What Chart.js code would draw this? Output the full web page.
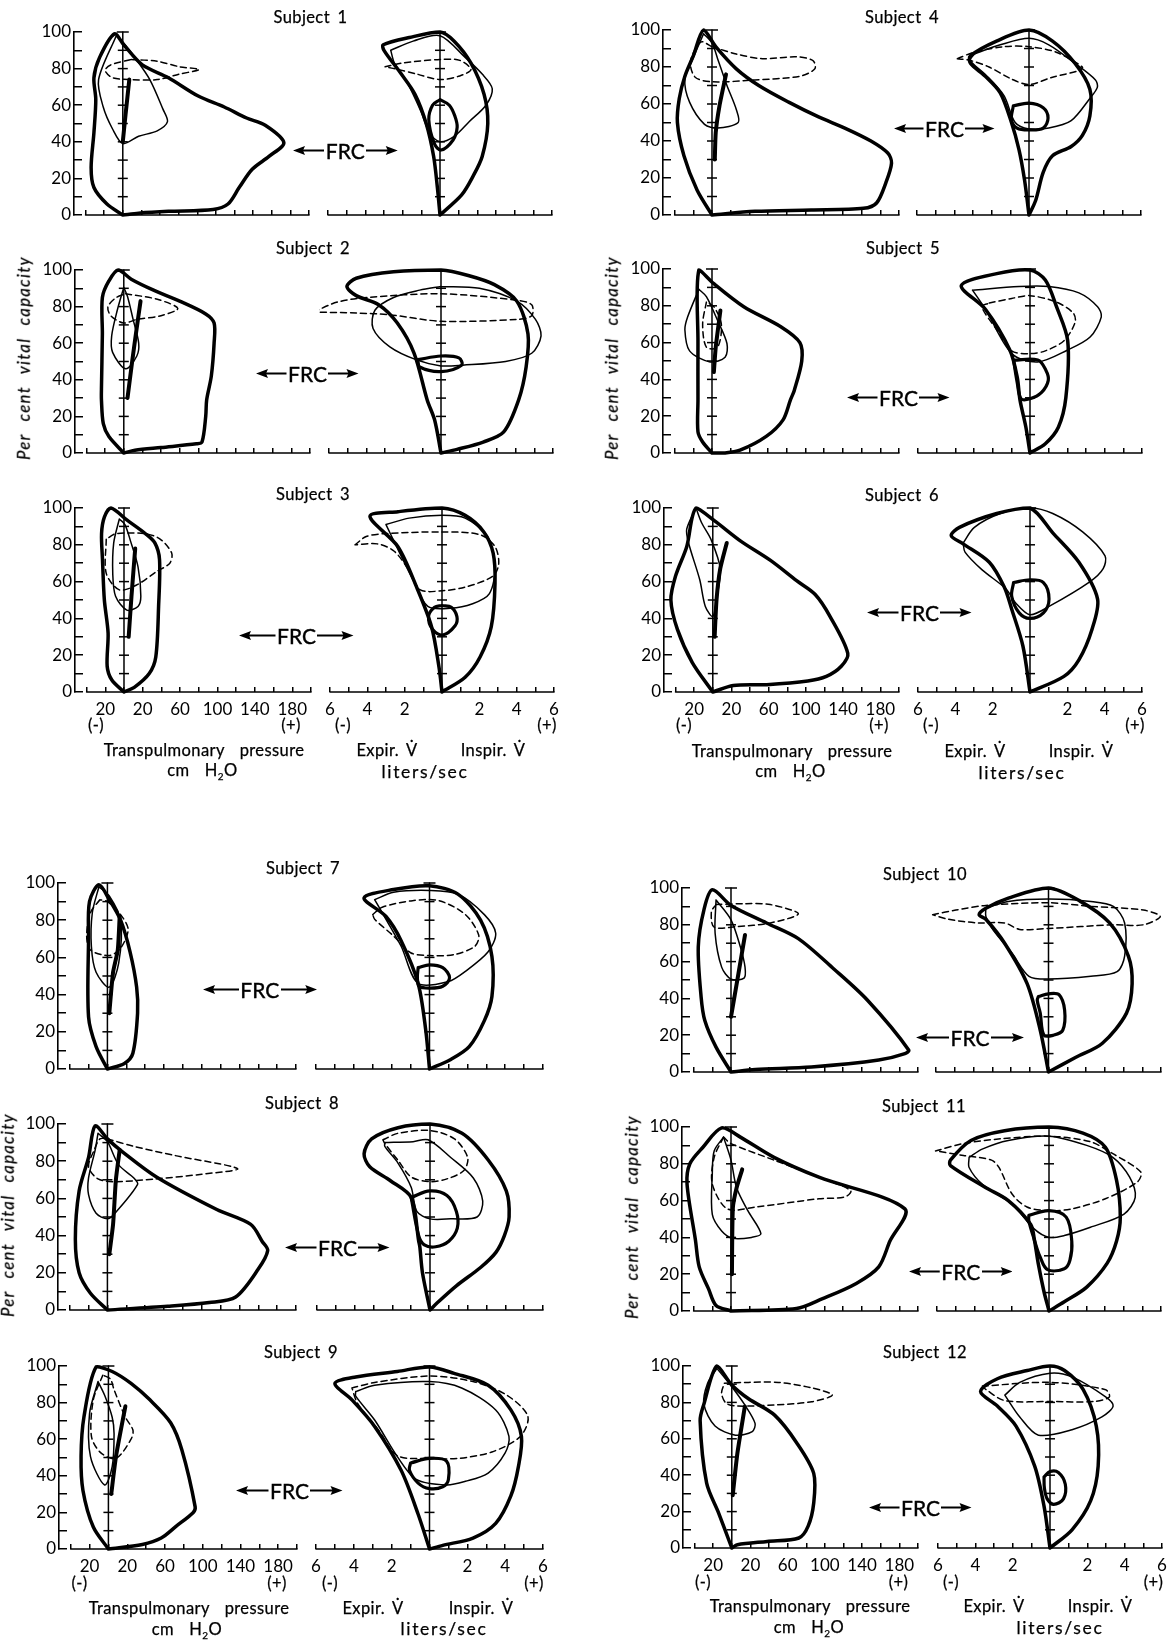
<!DOCTYPE html>
<html><head><meta charset="utf-8">
<style>
html,body{margin:0;padding:0;background:#fff;}
body{position:relative;width:1176px;height:1645px;overflow:hidden;font-family:Lato,sans-serif;color:#000;}
canvas{position:absolute;}
.t{position:absolute;white-space:nowrap;transform:translate(-50%,-50%);font-size:16.5px;line-height:1;letter-spacing:.4px;word-spacing:3px;-webkit-text-stroke:.25px #000;}
.t sub{font-size:10px;line-height:0;}
.li{font-size:17.5px;letter-spacing:1.7px;}
.rot{transform:translate(-50%,-50%) rotate(-90deg);font-style:italic;font-size:16.5px;letter-spacing:1.4px;word-spacing:7px;}
.frc{position:absolute;display:flex;align-items:center;justify-content:space-between;transform:translateY(-50%);font-size:21px;line-height:1;-webkit-text-stroke:.4px #000;}
.frc svg{flex:none;display:block;}
</style>
</head><body>
<script src="https://cdn.jsdelivr.net/npm/chart.js@4/dist/chart.umd.min.js"></script>
<script>
/* Axis values */
const pressureTicks=[-40,-20,0,20,40,60,80,100,120,140,160,180,200];
const pressureLabels=[-20,20,60,100,140,180];
const flowTicks=[-6,-5,-4,-3,-2,-1,0,1,2,3,4,5,6];
const flowLabels=[-6,-4,-2,2,4,6];
const volumeTicks=[0,10,20,30,40,50,60,70,80,90,100];
const volumeLabels=[0,20,40,60,80,100];

/* Subject 1 */
const s1PressureMax=[[0,0],[-17,6],[-31,15],[-34,26],[-31,45],[-29,63],[-31,75],[-25,86],[-9,99],[1,93],[21,82],[49,75],[81,65],[109,59],[133,53],[153,49],[173,39.5],[157,32],[139,25],[125,15],[113,6],[97,3],[49,2],[17,1]];
const s1PressureThin=[[-7,98],[-26,74],[-21,59],[-11,47],[0,39],[17,43],[37,46],[48,51],[43,58],[29,74],[13,86],[1,94]];
const s1PressureDash=[[9,85],[37,84],[61,81],[82,79.5],[61,77],[37,74],[9,74],[-11,75],[-19,79],[-13,82]];
const s1PressureTidal=[[0,40],[3,55],[7,74]];
const s1FlowMax=[[0,0],[-.14,15],[-.34,32],[-.74,50],[-1.34,66],[-2.14,78],[-3,90],[-3.04,93],[-1.64,97],[0,100],[.76,95],[1.66,83],[2.36,66],[2.56,50],[2.26,32],[1.76,21],[1.16,11]];
const s1FlowThin=[[-2.64,90],[-1.44,95],[0,98],[1.36,86],[2.26,77],[2.8,69],[2.46,60],[1.56,51],[.76,43],[0,40],[-.54,44.5],[-1.04,57],[-1.74,72],[-2.44,83]];
const s1FlowDash=[[-2.94,81],[-2.04,83],[0,85],[1.06,84.5],[1.66,79.5],[1.06,76],[0,74],[-1.24,77],[-2.24,79.5]];
const s1FlowTidal=[[0,63],[.5,60],[.8,54],[.92,48],[.7,41],[.06,35.5],[-.3,39],[-.6,52],[-.4,60]];

/* Subject 2 */
const s2PressureMax=[[0,0],[-16,9],[-22,16],[-24,29],[-24,35],[-23,65],[-23,85],[-16,94],[-6,100],[8,95],[32,89],[60,83],[88,76],[97,71],[97,60],[94,42],[89,29],[88,20],[84,6],[78,5],[40,3],[12,1.5]];
const s2PressureThin=[[0,90.5],[-7,78],[-13,64],[-12,55],[2,46],[14,53],[16,60],[10,73],[4,85.5]];
const s2PressureDash=[[2,87],[36,84],[58,79],[40,75],[14,73],[0,71],[-14,75],[-17,80],[-8,85]];
const s2PressureTidal=[[4,30],[9,50],[13,65],[18,83]];
const s2FlowMax=[[0,0],[-.34,18],[-.74,29],[-1.44,54.5],[-2.34,71],[-3.34,81],[-4.54,86],[-5.04,91],[-4.54,95.5],[-2.54,99],[0,100],[1.46,97],[2.86,92],[4.06,83],[4.66,65],[4.56,47],[4.16,29],[3.36,11.5],[2.26,6],[.86,2]];
const s2FlowThin=[[0,91],[2.06,90],[4.06,83],[5.06,73],[5.36,64],[4.86,54.5],[3.46,50],[1.16,48],[0,47.6],[-1.34,51],[-2.74,58],[-3.64,68],[-3.54,78],[-2.54,85],[-1.14,89]];
const s2FlowDash=[[-6.84,77],[-5.54,82.5],[-3.94,85],[0,87],[4.06,83.5],[4.86,81],[4.86,75],[4.06,73],[0,72],[-2.74,75.5],[-4.54,76.5]];
const s2FlowTidal=[[-1.24,51],[0,53],[.96,52],[1.1,48],[0,44.5],[-1.14,47]];

/* Subject 3 */
const s3PressureMax=[[0,0],[-13,6.5],[-18,14],[-17,32],[-21,50],[-23,72],[-24,86],[-21,95],[-14,100],[3,93.5],[23,86],[33,81],[38,72],[37,46.5],[34,19],[27,10],[11,2.5]];
const s3PressureThin=[[-5,94],[-11,81],[-12,64],[-9,52],[3,44.5],[15,46.5],[18,52],[15,68],[7,82],[1,91]];
const s3PressureDash=[[-19,83],[-19,64.5],[-5,55.5],[13,58],[35,65.5],[49,70],[51,75.5],[39,83],[23,86],[-9,86]];
const s3PressureTidal=[[5,30],[8,52],[12,78]];
const s3FlowMax=[[0,0],[-.16,13.5],[-.56,35.5],[-1.36,57],[-2.36,79],[-3.86,95.5],[-2.36,98],[0,100],[1.24,96],[2.24,87],[2.74,75.5],[2.84,59],[2.64,35.5],[2.04,19],[1.24,8]];
const s3FlowThin=[[-3,91],[-1.76,94.5],[0,96],[1.24,94.5],[2.44,84.5],[2.84,68],[2.54,53.5],[1.64,48],[.44,45.5],[-.76,46.5],[-1.56,61],[-2.36,77.5]];
const s3FlowDash=[[-4.66,80],[-4.06,84.5],[-3.16,86],[0,87],[2.04,85.5],[2.84,79],[3.04,70],[2.74,63],[1.24,57],[0,55],[-1.16,55.5],[-1.76,66],[-2.56,76.5],[-3.46,80.5]];
const s3FlowTidal=[[0,47],[.5,46],[.8,41],[.7,36],[.04,31],[-.5,34],[-.72,41],[-.4,46]];

/* Subject 4 */
const s4PressureMax=[[0,0],[-16,13.5],[-30,32],[-37,50],[-35,63],[-29,75],[-20,86],[-9,100],[4,91],[26,79],[50,70],[82,61],[114,53],[142,47],[170,40],[188,33.5],[192,28],[186,17.5],[176,6.5],[162,3.6],[106,2.7],[46,2]];
const s4PressureThin=[[-9,98],[-20,85],[-29,73.5],[-24,61],[-8,49],[6,47],[28,50],[26,57],[16,70],[6,84.5],[0,93]];
const s4PressureDash=[[0,91],[26,87],[54,84.5],[90,85.5],[108,83.5],[110,79],[94,75],[46,73],[0,72],[-18,74.5],[-23,83],[-12,93.5]];
const s4PressureTidal=[[3,30],[4,44.5],[8,59],[15,76]];
const s4FlowMax=[[0,0],[-.24,19],[-.54,35.5],[-.94,50],[-1.54,66],[-2.34,75],[-3.14,82],[-3.14,86],[-1.74,94],[0,100],[1.26,94],[2.46,82],[3.26,68],[3.26,53.5],[2.86,43],[2.26,37],[1.26,32],[.76,23],[.36,8]];
const s4FlowThin=[[-2.94,87],[-1.54,92],[0,95.5],[1.06,92],[2.46,82],[3.56,73],[3.66,69],[3.26,63],[2.26,51],[1.06,47],[0,46.5],[-.74,50],[-1.34,64.5],[-2.34,76],[-3.14,83.5]];
const s4FlowDash=[[-3.84,84.5],[-2.94,88],[-1.34,91],[0,91],[1.46,88],[2.86,80],[2.66,78],[1.26,74.5],[0,70.5],[-.94,73.5],[-2.14,80],[-3.14,83.5]];
const s4FlowTidal=[[-.84,59],[0,60.5],[.76,58],[1.02,52.5],[.76,47],[0,46],[-.64,47],[-.94,51.5]];

/* Subject 5 */
const s5PressureMax=[[0,0],[-10,6],[-15,11.5],[-15,29],[-15,60],[-14,99.5],[2,92],[34,79.5],[74,68.5],[94,60],[96,50],[88,34],[84,29],[76,18],[58,9],[30,1.5],[14,0]];
const s5PressureThin=[[-14,89],[-26,74],[-29,67],[-24,55.5],[-2,49.5],[14,52],[16,59.5],[6,72],[-6,85]];
const s5PressureDash=[[-6,82],[-10,70],[-6,57.5],[6,57.5],[10,70],[2,79.5]];
const s5PressureTidal=[[2,44],[4,57.5],[9,77.5]];
const s5FlowMax=[[0,0],[-.22,14],[-.54,29],[-.68,41],[-1.08,56],[-2.38,78],[-3.68,91],[-1.78,97.5],[0,99.5],[.82,94],[1.42,79.5],[2.02,61],[1.92,30],[1.52,14],[.82,5]];
const s5FlowThin=[[-3.08,88.5],[-.58,90.5],[1.02,90.5],[2.62,87],[3.62,79.5],[3.82,74],[3.22,63],[2.02,56],[.42,49.5],[-.98,54],[-2.38,78]];
const s5FlowDash=[[-2.18,81.5],[-.98,84],[0,85.5],[1.42,82],[2.32,76],[2.42,71],[1.82,61],[.82,55.5],[0,54],[-.98,55.5],[-1.78,67],[-2.58,79.5]];
const s5FlowTidal=[[-.88,50.5],[.42,50.5],[.85,45],[.98,39.5],[.62,33],[0,29.5],[-.48,29.5],[-.68,38]];

/* Subject 6 */
const s6PressureMax=[[0,0],[-22,16],[-38,34],[-45,50],[-40,63],[-28,79],[-18,100],[2,93],[30,82],[62,71.5],[90,60.5],[110,53],[126,41],[145,21],[138,14],[122,8.5],[102,6],[58,4],[22,3.5]];
const s6PressureThin=[[-18,100],[-28,88.5],[-26,81],[-14,61],[-8,46.5],[0,41],[4,50.5],[8,67],[-2,83],[-12,92]];
const s6PressureDash=[];
const s6PressureTidal=[[2,30],[4,50],[8,67],[15,81]];
const s6FlowMax=[[0,0],[-.38,25],[-.98,45],[-1.38,57],[-2.18,70.5],[-3.58,80.5],[-4.22,85],[-3.78,89.5],[-1.78,97],[0,100],[1.22,86.5],[2.62,70.5],[3.62,50.5],[3.32,34],[2.62,17.5],[1.82,8.5]];
const s6FlowThin=[[-3.58,81],[-2.98,89.5],[-1.58,97],[0,100],[1.22,97],[2.82,87],[4.02,74],[3.92,67],[3.22,60],[1.02,46.5],[0,42],[-.78,48.5],[-1.28,56],[-2.58,66.5],[-3.48,76]];
const s6FlowDash=[];
const s6FlowTidal=[[-.88,59.5],[0,61],[.72,59.5],[1.02,50.5],[.72,43],[0,40],[-.58,43],[-.98,52]];

/* Subject 7 */
const s7PressureMax=[[0,0],[-12,12],[-20,28],[-20,70],[-19,90],[-9,99],[2,91],[14,80],[24,63],[31,44],[32,30],[27,8.5],[18,3]];
const s7PressureThin=[[-9,98],[-16,84],[-17,66],[-12,52],[2,44],[12,57],[14,80],[2,93]];
const s7PressureDash=[[-8,91],[-18,84],[-22,71.5],[-18,64],[2,61],[14,65],[22,75],[14,83],[0,90]];
const s7PressureTidal=[[2,30],[6,52],[11,64],[13,82]];
const s7FlowMax=[[0,0],[-.2,21],[-.6,46],[-1.5,69],[-2.3,82],[-3.46,92],[-1.9,96.5],[0,98.5],[1.5,94],[2.7,80],[3.3,60.5],[3.3,39],[2.9,26],[2.1,12],[1.1,5]];
const s7FlowThin=[[-2.9,91],[-1.9,95],[0,96],[1.5,94],[2.9,83],[3.5,73],[3.1,63],[1.9,52.5],[1,47],[-.6,46],[-1.5,66],[-2.3,80.5]];
const s7FlowDash=[[-3,83],[-2.5,87],[-.9,90.5],[.5,90.5],[1.9,83],[2.6,72],[2.4,66],[1.3,61.5],[0,61],[-1,62.5],[-1.9,71.5],[-2.9,80.5]];
const s7FlowTidal=[[-.6,54.5],[0,56],[.7,54.5],[1.06,49],[.7,44.5],[0,43.5],[-.54,44.5],[-.64,49]];

/* Subject 8 */
const s8PressureMax=[[0,0],[-18,9],[-30,20],[-34,38],[-30,64],[-20,82],[-13,99],[0,92],[16,85],[52,71.5],[116,54],[152,46],[164,37],[170,32],[160,22],[136,7],[108,4],[64,2]];
const s8PressureThin=[[-10,95],[-13,86],[-20,71],[-20,62],[-12,52],[0,49],[8,52],[32,67.5],[28,71],[12,78],[0,90.5]];
const s8PressureDash=[[0,92],[28,88],[72,83],[138,76],[100,73],[52,70.5],[8,69],[-10,70.5],[-20,77],[-14,86],[-8,92]];
const s8PressureTidal=[[2,30],[6,46],[9,70],[13,86]];
const s8FlowMax=[[0,0],[-.4,20],[-.54,34],[-.6,37],[-1,60.5],[-2.1,69.5],[-3.2,77],[-3.5,84],[-3.1,92],[-1.7,98],[0,100],[1.7,95],[3.1,80.5],[4.05,64],[4.2,50],[3.95,40],[3.5,31],[2.7,23],[1.4,13],[.4,4]];
const s8FlowThin=[[-2.4,90],[-.9,90.5],[-.1,91.5],[1.1,82],[2.3,71],[2.8,58.5],[2.5,50],[1.1,49],[0,49],[-.7,53],[-1,66],[-1.7,79],[-2.4,88]];
const s8FlowDash=[[-2.5,91.5],[-1.7,95],[0,96.5],[1.3,92],[2,82],[1.8,75],[.9,70.5],[0,69],[-1,71.5],[-1.7,80.5],[-2.4,89.5]];
const s8FlowTidal=[[-1,60.5],[0,64],[.9,61.5],[1.4,53],[1.45,44],[1,37],[.3,34],[-.3,35],[-.6,40]];

/* Subject 9 */
const s9PressureMax=[[0,0],[-16,12],[-27,32],[-29,50.5],[-26,72],[-13,99.5],[4,97],[24,90.5],[44,81.5],[66,69],[78,54],[92,23],[90,20],[72,12.5],[56,6],[36,2.5]];
const s9PressureThin=[[-11,91.5],[-20,74],[-19,50.5],[-4,35],[4,45],[6,63],[4,72],[-4,84]];
const s9PressureDash=[[-6,95],[-16,81.5],[-18,61.5],[-8,52.5],[8,49.5],[24,60],[26,65],[18,72],[6,87],[2,93]];
const s9PressureTidal=[[3,30],[8,50.5],[18,78]];
const s9FlowMax=[[0,0],[-.6,19],[-1.5,43],[-2.9,67],[-4.1,81.5],[-5,90.5],[-3.9,94],[-1.7,97],[0,99.5],[1.3,96],[3.1,89.5],[4.3,76],[4.86,61.5],[4.7,45],[4.3,29],[3.5,14],[2.3,6],[.7,2]];
const s9FlowThin=[[-3.9,86],[-2.9,89.5],[0,91.5],[1.7,88],[3.5,76],[4.2,61.5],[4,52.5],[3.1,41.5],[1.9,37],[.9,35],[-.7,38],[-1.7,50.5],[-2.9,70.5],[-3.9,83.5]];
const s9FlowDash=[[-4.1,88],[-2.9,91],[0,94.5],[2.3,91.5],[4.1,84],[5.2,72.5],[4.8,61.5],[3.3,53],[1.5,49.5],[0,49.5],[-1.7,51],[-2.7,65],[-3.8,79.5]];
const s9FlowTidal=[[-1,47],[0,49.5],[.9,48],[1,38],[.7,34],[0,33],[-.6,36],[-1.06,43]];

/* Subject 10 */
const s10PressureMax=[[0,0],[-16,13.5],[-28,28],[-32,41],[-35,68],[-29,88],[-20,99],[0,90.5],[38,81],[72,72.5],[110,56],[146,39],[190,12],[186,10],[158,6.5],[86,2.7],[26,1.3]];
const s10PressureThin=[[-16,93.5],[-17,75.5],[-10,57],[0,50.5],[14,51],[15,57],[10,68],[0,82.7]];
const s10PressureDash=[[-16,91],[14,91.5],[42,91],[72,86],[42,81],[6,79],[-18,78.7],[-21,87]];
const s10PressureTidal=[[0,30],[8,53.6],[15,74.5]];
const s10FlowMax=[[0,0],[-.44,22.7],[-1.14,48],[-2.34,70],[-3.34,83],[-3.7,85.5],[-3.34,89],[-2.14,94.5],[0,100],[1.66,93],[3.26,81],[4.26,63],[4.46,48],[4.16,32],[2.86,15.5],[1.46,8]];
const s10FlowThin=[[-3.34,89],[-2.14,92.7],[0,94],[2.26,92.7],[3.46,90],[4.06,81],[4.06,63],[3.66,54.5],[2.26,52],[0,50.5],[-1.04,52],[-1.94,64.5],[-2.94,77],[-3.34,84.5]];
const s10FlowDash=[[-6.18,85.5],[-4.94,88],[-3.34,90.5],[0,92],[2.26,90],[5.06,88],[5.96,84.5],[5.06,80],[3.46,80],[0,78],[-1.54,77.5],[-2.34,81],[-3.74,81],[-5.34,83]];
const s10FlowTidal=[[-.54,41],[0,42.5],[.56,42],[.86,33.6],[.76,22.7],[.26,20],[-.24,20],[-.44,32],[-.6,39]];

/* Subject 11 */
const s11PressureMax=[[0,0],[-16,3],[-24,12],[-34,24],[-38,38.5],[-47,69],[-44,80],[-30,89],[-10,99.5],[10,94.5],[46,83.5],[94,72.7],[186,55.5],[170,38],[158,24],[134,15],[98,6.7],[70,1.3]];
const s11PressureThin=[[-8,94.5],[-18,87],[-20,74.5],[-20,52.5],[-10,43.5],[2,39.5],[22,40],[32,42],[18,54.5],[6,67],[0,82]];
const s11PressureDash=[[-8,94.5],[-18,83.5],[-20,69],[-4,55.5],[26,56.5],[94,61],[122,62],[128,65.5],[94,72.7],[46,82],[0,91]];
const s11PressureTidal=[[1,20],[2,56],[6,67],[12,77]];
const s11FlowMax=[[0,0],[-.28,11],[-.58,26],[-.78,38.5],[-.98,47],[-2.18,60],[-3.38,67],[-5.28,79],[-5.28,82],[-4.18,92.7],[-2.38,98],[0,100],[1.82,96.7],[3.02,89],[3.62,71],[3.82,51],[3.62,38],[3.12,26],[2.02,13],[.82,5]];
const s11FlowThin=[[-4.28,83.5],[-3.58,88],[-2.18,92.7],[0,95],[2.02,90],[3.42,83.5],[4.32,72.7],[4.62,61.8],[4.02,52.7],[2.22,45.5],[.82,41],[0,40],[-.78,44.5],[-1.98,58],[-3.58,69],[-4.28,78]];
const s11FlowDash=[[-6.08,87],[-4.58,91],[-2.58,93.6],[0,95],[2.22,92],[3.42,85.5],[4.92,75.5],[4.72,70],[3.02,61],[1.22,55.5],[0,54.5],[-1.18,56.5],[-1.98,63.6],[-2.68,78],[-3.08,82],[-4.58,84.5]];
const s11FlowTidal=[[-1.08,52],[0,54.5],[.92,51],[1.22,38],[1.12,27.6],[.82,23],[-.08,22.5],[-.48,29.5],[-.78,38.5],[-1.08,49]];

/* Subject 12 */
const s12PressureMax=[[0,0],[-14,19],[-27,35.6],[-34,70],[-30,79],[-16,100],[0,89.6],[18,82],[46,73],[70,57.6],[88,41],[88,24.7],[82,12],[72,5.5],[38,3.6],[6,1.8]];
const s12PressureThin=[[-16,98.7],[-26,90.5],[-30,79],[-18,67],[4,62],[22,64],[25,68.5],[14,78.6],[0,88.6]];
const s12PressureDash=[[-8,90.5],[18,91],[50,91],[86,88],[108,84],[86,80.4],[46,78.6],[6,78],[-6,79.5],[-11,85]];
const s12PressureTidal=[[1,29],[6,52],[14,77.7]];
const s12FlowMax=[[0,0],[-.32,23],[-.82,45],[-1.82,67],[-2.82,78],[-3.72,86],[-2.82,93],[-1.22,97.5],[0,100],[.78,97.5],[1.78,87],[2.48,67],[2.58,45],[2.18,26],[1.18,10]];
const s12FlowThin=[[-2.42,84],[-1.62,91],[0,96],[1.18,94],[2.98,83],[3.38,78],[2.78,72],[1.18,65],[-.62,62],[-1.62,72]];
const s12FlowDash=[[-3.62,89],[0,91],[2.98,87],[3.18,83],[2.38,80.5],[0,80.5],[-2.42,81],[-3.42,87]];
const s12FlowTidal=[[-.32,39],[0,42],[.45,41.5],[.82,35],[.72,27],[.2,24],[-.15,27],[-.3,33]];

const subjectNames=["Subject 1","Subject 2","Subject 3","Subject 4","Subject 5","Subject 6","Subject 7","Subject 8","Subject 9","Subject 10","Subject 11","Subject 12"];
const pressureSets=[
 [s1PressureMax,s1PressureThin,s1PressureDash,s1PressureTidal],[s2PressureMax,s2PressureThin,s2PressureDash,s2PressureTidal],
 [s3PressureMax,s3PressureThin,s3PressureDash,s3PressureTidal],[s4PressureMax,s4PressureThin,s4PressureDash,s4PressureTidal],
 [s5PressureMax,s5PressureThin,s5PressureDash,s5PressureTidal],[s6PressureMax,s6PressureThin,s6PressureDash,s6PressureTidal],
 [s7PressureMax,s7PressureThin,s7PressureDash,s7PressureTidal],[s8PressureMax,s8PressureThin,s8PressureDash,s8PressureTidal],
 [s9PressureMax,s9PressureThin,s9PressureDash,s9PressureTidal],[s10PressureMax,s10PressureThin,s10PressureDash,s10PressureTidal],
 [s11PressureMax,s11PressureThin,s11PressureDash,s11PressureTidal],[s12PressureMax,s12PressureThin,s12PressureDash,s12PressureTidal]];
const flowSets=[
 [s1FlowMax,s1FlowThin,s1FlowDash,s1FlowTidal],[s2FlowMax,s2FlowThin,s2FlowDash,s2FlowTidal],
 [s3FlowMax,s3FlowThin,s3FlowDash,s3FlowTidal],[s4FlowMax,s4FlowThin,s4FlowDash,s4FlowTidal],
 [s5FlowMax,s5FlowThin,s5FlowDash,s5FlowTidal],[s6FlowMax,s6FlowThin,s6FlowDash,s6FlowTidal],
 [s7FlowMax,s7FlowThin,s7FlowDash,s7FlowTidal],[s8FlowMax,s8FlowThin,s8FlowDash,s8FlowTidal],
 [s9FlowMax,s9FlowThin,s9FlowDash,s9FlowTidal],[s10FlowMax,s10FlowThin,s10FlowDash,s10FlowTidal],
 [s11FlowMax,s11FlowThin,s11FlowDash,s11FlowTidal],[s12FlowMax,s12FlowThin,s12FlowDash,s12FlowTidal]];
const labelledRows=[2,5,8,11];

/* Page layout, separate from the data: pressure left/right, flow left/right, top, bottom */
const panelBoxes=[
 [85.5,309.4,328.1,552,31.7,215],[86.2,310,329.2,553,270,452.7],[87,310.5,330,554,508.3,691.7],
 [675,898.5,917.2,1141,30,215],[675,899.2,918,1142,269,452.7],[675.4,899.2,918,1142,508.3,692.3],
 [70,296,316,542.6,883.3,1069],[70,296,316.9,543,1124.3,1310],[70.5,297,316,542.6,1366,1549.3],
 [693.7,918,936,1160.6,888.3,1071.7],[693.7,918,936.7,1161,1126.7,1310.7],[694.9,918,937.5,1161.7,1366,1548.3]];
const titleSpots=[[310.5,17],[313,248],[313,494],[902,17],[903,248],[902,495],[303,868],[302,1103],[301,1352],[925,874],[924,1106],[925,1352]];
const frcSpots=[[292.5,398,150],[256,359,373],[239,354,635],[894,995,128],[847,950,397],[867,972,612],[202.5,317,989],[285,390,1247],[236,343,1490],[916,1024,1037],[909,1012.5,1271],[869,972,1507]];
const captionSpots=[
 {m:[96,291,343,547,725],tp:[204,750],cm:[202.5,770],ex:387,ins:493,ev:750,li:[425,772]},
 {m:[684,879,931,1135,725],tp:[792,751],cm:[790.5,771],ex:975,ins:1081,ev:751,li:[1022,773]},
 {m:[79.5,277,330,534,1583],tp:[189,1608],cm:[187,1629],ex:373,ins:481,ev:1608,li:[444,1629]},
 {m:[703,898.5,951,1153.5,1582],tp:[810,1606],cm:[809,1627],ex:994,ins:1100,ev:1606,li:[1060,1628]}];
const rotSpots=[[24,358],[612,358],[8,1215],[632,1217]];

const FONT="Lato, sans-serif";
Chart.defaults.font.family=FONT;
Chart.defaults.color="#000";

const pts=a=>a.map(p=>({x:p[0],y:p[1]}));
const closed=a=>a.length?pts(a.concat([a[0]])):[];
function curve(data,width,dash,tension){
  return {data,borderColor:"#000",borderWidth:width,borderDash:dash||[],pointRadius:0,tension:tension,fill:false,clip:false,borderCapStyle:"round",borderJoinStyle:"round"};
}
function panel(kind,sets,box,showLabels){
  const isP=kind==="p";
  const [x0,x1,top,bot]=box;
  const unit=(x1-x0)/(isP?240:12);
  const gap=12.4;
  const axisX=isP?x0-gap*unit:x0;
  const leftGutter=isP?52:10, rightGutter=10, topGutter=10, bottomGutter=30;
  const cl=Math.round(axisX)-leftGutter, ct=Math.round(top)-topGutter;
  const cw=Math.round(x1)+rightGutter-cl, ch=Math.round(bot)+bottomGutter-ct;
  const c=document.createElement("canvas");
  c.width=cw;c.height=ch;c.style.left=cl+"px";c.style.top=ct+"px";c.style.width=cw+"px";c.style.height=ch+"px";
  document.body.appendChild(c);
  const ticks=isP?pressureTicks:flowTicks, labs=isP?pressureLabels:flowLabels;
  const xMin=isP?-40-gap:-6, xMax=isP?200:6;
  const center=curve(volumeTicks.map(v=>({x:0,y:v})),1.5,[],0);
  Object.assign(center,{pointRadius:volumeTicks.map(v=>v===100?6:v===0?0:5),pointStyle:"line",pointBorderWidth:1.5,pointBorderColor:"#000"});
  const base=curve(pts([[ticks[0],0],[ticks[ticks.length-1],0]]),1.6,[],0);
  const datasets=[center,base,curve(closed(sets[0]),3.5,[],.3),curve(closed(sets[1]),1.5,[],.3),curve(closed(sets[2]),1.5,[6,4],.3),
    isP?curve(pts(sets[3]),4,[],.2):curve(closed(sets[3]),3.2,[],.35)];
  const noPad=s=>{s.paddingLeft=0;s.paddingRight=0;s.paddingTop=0;s.paddingBottom=0;};
  new Chart(c,{type:"line",data:{datasets},options:{
    responsive:false,animation:false,devicePixelRatio:1,
    layout:{padding:{top:topGutter,right:rightGutter,left:0,bottom:0}},
    plugins:{legend:{display:false},tooltip:{enabled:false},title:{display:false}},
    scales:{
      x:{type:"linear",min:xMin,max:xMax,position:"bottom",
        afterBuildTicks:s=>{s.ticks=ticks.map(v=>({value:v}));},
        afterFit:s=>{s.height=bottomGutter;noPad(s);},
        grid:{drawOnChartArea:false,drawTicks:true,tickLength:-5,color:"#000",lineWidth:1.5},
        border:{display:false},
        ticks:{autoSkip:false,maxRotation:0,padding:12,font:{size:17,family:FONT},color:"#000",
          callback:v=>(showLabels&&labs.includes(v))?String(Math.abs(v)):""}},
      y:{type:"linear",min:0,max:100,position:"left",display:isP,
        afterBuildTicks:s=>{s.ticks=volumeTicks.map(v=>({value:v}));},
        afterFit:s=>{s.width=leftGutter;noPad(s);},
        grid:{drawOnChartArea:false,drawTicks:true,tickLength:-8,color:"#000",lineWidth:1.5},
        border:{display:true,color:"#000",width:1.6},
        ticks:{autoSkip:false,padding:11,font:{size:17,family:FONT},color:"#000",
          callback:v=>volumeLabels.includes(v)?String(v):""}}
    }}});
}
function text(html,x,y,cls){
  const d=document.createElement("div");d.className=cls||"t";d.innerHTML=html;d.style.left=x+"px";d.style.top=y+"px";document.body.appendChild(d);return d;
}
function arrow(w,dir){
  const head=dir<0?`M0 5 L12 0.5 L10 5 L12 9.5 Z`:`M${w} 5 L${w-12} 0.5 L${w-10} 5 L${w-12} 9.5 Z`;
  return `<svg width="${w}" height="10" viewBox="0 0 ${w} 10"><path d="M${dir<0?8:0} 5 H${dir<0?w:w-8}" stroke="#000" stroke-width="2"/><path d="${head}" fill="#000"/></svg>`;
}
panelBoxes.forEach((b,i)=>{
  const show=labelledRows.includes(i);
  panel("p",pressureSets[i],[b[0],b[1],b[4],b[5]],show);
  panel("f",flowSets[i],[b[2],b[3],b[4],b[5]],show);
  text(subjectNames[i],titleSpots[i][0],titleSpots[i][1]);
  const [a,z,y]=frcSpots[i];
  const w=(z-a-42)/2;
  const f=document.createElement("div");f.className="frc";f.style.left=a+"px";f.style.top=y+"px";f.style.width=(z-a)+"px";
  f.innerHTML=arrow(w,-1)+"<span>FRC</span>"+arrow(w,1);document.body.appendChild(f);
});
captionSpots.forEach(c=>{
  const y=c.m[4];
  text("(-)",c.m[0],y);text("(+)",c.m[1],y);text("(-)",c.m[2],y);text("(+)",c.m[3],y);
  text("Transpulmonary&nbsp; pressure",c.tp[0],c.tp[1]);
  text("cm&nbsp; H<sub>2</sub>O",c.cm[0],c.cm[1]);
  text("Expir. V\u0307",c.ex,c.ev);
  text("Inspir. V\u0307",c.ins,c.ev);
  text("liters/sec",c.li[0],c.li[1],"t li");
});
rotSpots.forEach(r=>text("Per cent vital capacity",r[0],r[1],"t rot"));
</script>
</body></html>
